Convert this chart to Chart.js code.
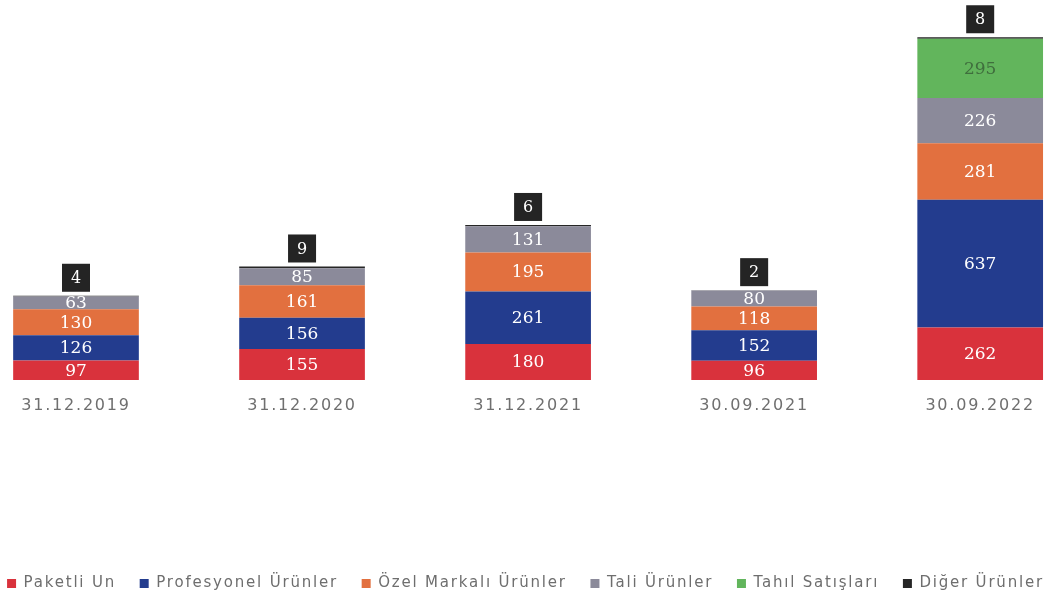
<!DOCTYPE html>
<html>
<head>
<meta charset="utf-8">
<script src="https://cdn.jsdelivr.net/npm/chart.js@4"></script>
<style>
  html, body { margin: 0; padding: 0; background: #fff; }
  #wrap { width: 1051px; height: 601px; }
</style>
</head>
<body>
<div id="wrap"><canvas id="chart" width="1051" height="601"></canvas></div>
<script>
// chart values
const categories = ['31.12.2019', '31.12.2020', '31.12.2021', '30.09.2021', '30.09.2022'];
const paketliUn = [97, 155, 180, 96, 262];
const profesyonel = [126, 156, 261, 152, 637];
const ozelMarkali = [130, 161, 195, 118, 281];
const taliUrunler = [63, 85, 131, 80, 226];
const tahilSatislari = [0, 0, 0, 0, 295];
const digerUrunler = [4, 9, 6, 2, 8];

const legendPad = 4;
const spacing = '1.8px';

// the reference text is spread out a bit, so widen all text
const letterSpacing = {
  id: 'letterSpacing',
  beforeUpdate(chart) { chart.ctx.letterSpacing = spacing; },
  beforeDraw(chart) { chart.ctx.letterSpacing = spacing; }
};

// draws the value labels inside the bars and the black boxes on top
const valueLabels = {
  id: 'valueLabels',
  afterDatasetsDraw(chart) {
    const ctx = chart.ctx;
    chart.data.datasets.forEach((ds, di) => {
      const meta = chart.getDatasetMeta(di);
      meta.data.forEach((bar, i) => {
        const v = ds.data[i];
        if (!v) return;
        ctx.save();
        ctx.letterSpacing = '0px';
        ctx.textAlign = 'center';
        ctx.textBaseline = 'middle';
        if (ds.boxLabel) {
          const w = 28, h = 28;
          const bottom = bar.y - 4;
          ctx.fillStyle = '#242424';
          ctx.fillRect(bar.x - w / 2, bottom - h, w, h);
          ctx.fillStyle = '#ffffff';
          ctx.font = '16px "DejaVu Serif"';
          ctx.fillText(String(v), bar.x, bottom - h / 2 + 1);
        } else {
          ctx.fillStyle = ds.labelColor;
          ctx.font = '17px "DejaVu Serif"';
          ctx.fillText(String(v), bar.x, (bar.y + bar.base) / 2 + 1);
        }
        ctx.restore();
      });
    });
  }
};

new Chart(document.getElementById('chart'), {
  type: 'bar',
  data: {
    labels: categories,
    datasets: [
      { label: 'Paketli Un', data: paketliUn, backgroundColor: '#d9323c', labelColor: '#ffffff' },
      { label: 'Profesyonel Ürünler', data: profesyonel, backgroundColor: '#233c8e', labelColor: '#ffffff' },
      { label: 'Özel Markalı Ürünler', data: ozelMarkali, backgroundColor: '#e2703f', labelColor: '#ffffff' },
      { label: 'Tali Ürünler', data: taliUrunler, backgroundColor: '#8b8a9a', labelColor: '#ffffff' },
      { label: 'Tahıl Satışları', data: tahilSatislari, backgroundColor: '#62b55c', labelColor: '#3f6e3d' },
      { label: 'Diğer Ürünler', data: digerUrunler, backgroundColor: '#262626', boxLabel: true }
    ]
  },
  options: {
    responsive: false,
    animation: false,
    datasets: {
      bar: { categoryPercentage: 1, barPercentage: 0.556, borderWidth: 0, clip: false }
    },
    layout: { padding: { top: 19, bottom: 0, left: 0, right: 0 } },
    plugins: {
      tooltip: { enabled: false },
      legend: {
        position: 'bottom',
        labels: {
          boxWidth: 9,
          boxHeight: 9,
          padding: legendPad,
          color: '#6e6e6e',
          font: { family: 'DejaVu Sans', size: 15 },
          // extra trailing spaces give the wide gaps between items
          generateLabels(chart) {
            const items = Chart.defaults.plugins.legend.labels.generateLabels(chart);
            items.forEach((it, i) => { if (i < items.length - 1) it.text += '   '; });
            return items;
          }
        }
      }
    },
    scales: {
      x: {
        stacked: true,
        offset: false,
        grid: { display: false, drawTicks: false },
        border: { display: false },
        ticks: {
          padding: 16,
          color: '#6f6f6f',
          font: { family: 'DejaVu Sans', size: 16 },
          maxRotation: 0
        },
        afterFit(scale) { scale.height = 601 - (15 + legendPad + 10) - 380; }
      },
      y: {
        stacked: true,
        min: 0,
        max: 1800,
        grid: { display: false, drawTicks: false },
        border: { display: false },
        ticks: { display: false },
        afterFit(scale) { scale.width = 76; }
      },
      y2: {
        position: 'right',
        grid: { display: false, drawTicks: false },
        border: { display: false },
        ticks: { display: false },
        afterFit(scale) { scale.width = 68; }
      }
    }
  },
  plugins: [letterSpacing, valueLabels]
});
</script>
</body>
</html>
